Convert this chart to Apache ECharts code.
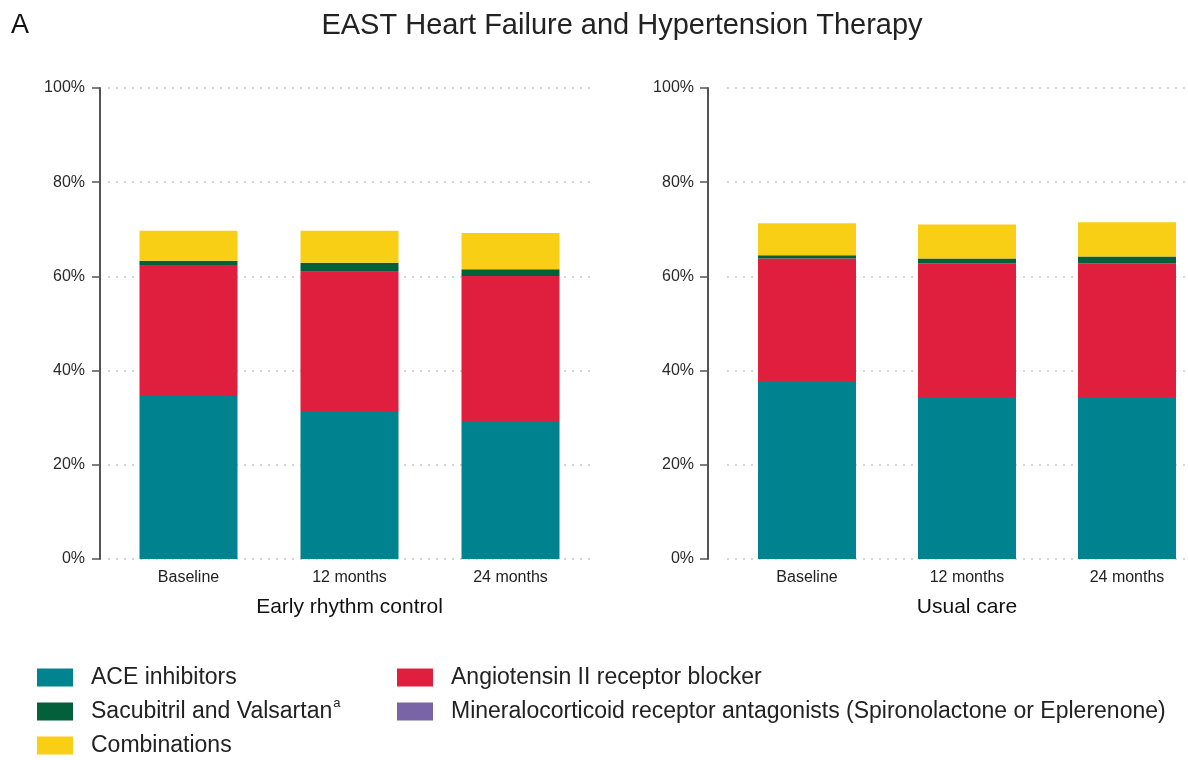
<!DOCTYPE html>
<html lang="en">
<head>
    <meta charset="UTF-8">
    <title>EAST Heart Failure and Hypertension Therapy</title>
    <style>
        html, body {
            margin: 0;
            padding: 0;
            background: #fff;
        }

        #chart1 {
            width: 1188px;
            height: 760px;
        }
    </style>
</head>
<body>
<div id="chart1"></div>
<script src="https://cdn.jsdelivr.net/npm/echarts@6/dist/echarts.min.js"></script>
<script type="text/javascript">
    // data, in percent
    var categories = ['Baseline', '12 months', '24 months'];
    var yTicks = [0, 20, 40, 60, 80, 100];

    var earlyAce = [34.6, 31.2, 29.3];
    var earlyArb = [27.8, 29.8, 30.8];
    var earlySacVal = [0.9, 1.9, 1.4];
    var earlyMra = [0, 0, 0];
    var earlyComb = [6.4, 6.8, 7.7];

    var usualAce = [37.6, 34.4, 34.4];
    var usualArb = [26.2, 28.4, 28.4];
    var usualSacVal = [0.7, 1.0, 1.4];
    var usualMra = [0, 0, 0];
    var usualComb = [6.8, 7.2, 7.3];

    var font = '"Liberation Sans", Arial, sans-serif';
    var colors = {
        'ACE inhibitors': '#00838f',
        'Angiotensin II receptor blocker': '#e01f3f',
        'Sacubitril and Valsartan': '#045f3b',
        'Mineralocorticoid receptor antagonists (Spironolactone or Eplerenone)': '#7a64a8',
        'Combinations': '#f9cf16'
    };

    var chart1 = echarts.init(document.getElementById('chart1'));

    function xAxisFor(idx, name) {
        return {
            type: 'category',
            gridIndex: idx,
            data: categories,
            axisLine: {show: false},
            axisTick: {show: false},
            axisLabel: {fontFamily: font, fontSize: 16, color: '#222', margin: 11},
            name: name,
            nameLocation: 'middle',
            nameGap: 38,
            nameTextStyle: {fontFamily: font, fontSize: 21, color: '#111'}
        };
    }

    function yAxisFor(idx, off, gap) {
        return {
            type: 'value',
            gridIndex: idx,
            min: yTicks[0],
            max: yTicks[yTicks.length - 1],
            interval: 20,
            offset: off,
            axisLine: {show: true, lineStyle: {color: '#555', width: 2}},
            axisTick: {show: true, length: 8, lineStyle: {color: '#555', width: 1.5}},
            axisLabel: {formatter: '{value}%', fontFamily: font, fontSize: 16, color: '#2a2a2a', margin: gap},
            splitLine: {show: true, lineStyle: {color: '#c8c8c8', type: [2, 6], width: 1.5}}
        };
    }

    function bars(idx, list) {
        return list.map(function (s) {
            return {
                name: s[0],
                type: 'bar',
                xAxisIndex: idx,
                yAxisIndex: idx,
                stack: 'p' + idx,
                barWidth: 98,
                data: s[1],
                itemStyle: {color: colors[s[0]]},
                emphasis: {disabled: true}
            };
        });
    }

    var series = bars(0, [
        ['ACE inhibitors', earlyAce],
        ['Angiotensin II receptor blocker', earlyArb],
        ['Sacubitril and Valsartan', earlySacVal],
        ['Mineralocorticoid receptor antagonists (Spironolactone or Eplerenone)', earlyMra],
        ['Combinations', earlyComb]
    ]).concat(bars(1, [
        ['ACE inhibitors', usualAce],
        ['Angiotensin II receptor blocker', usualArb],
        ['Sacubitril and Valsartan', usualSacVal],
        ['Mineralocorticoid receptor antagonists (Spironolactone or Eplerenone)', usualMra],
        ['Combinations', usualComb]
    ]));

    // superscript "a" after Sacubitril and Valsartan
    var legendText = {
        fontFamily: font,
        fontSize: 23,
        lineHeight: 29,
        color: '#222',
        padding: [0, 0, 0, 13],
        rich: {
            sup: {fontFamily: font, fontSize: 13, lineHeight: 13, color: '#222', verticalAlign: 'top', padding: [0, 0, 16, 1]}
        }
    };

    function legendFmt(name) {
        if (name === 'Sacubitril and Valsartan') {
            return name + '{sup|a}';
        }
        return name;
    }

    function legendAt(x, names) {
        return {
            orient: 'vertical',
            left: x,
            top: 663,
            height: 120,
            padding: 0,
            itemWidth: 36,
            itemHeight: 18,
            itemGap: 5,
            icon: 'rect',
            selectedMode: false,
            data: names,
            formatter: legendFmt,
            textStyle: legendText
        };
    }

    chart1.setOption({
        animation: false,
        title: [{
            text: 'EAST Heart Failure and Hypertension Therapy',
            left: 617,
            top: 6,
            textAlign: 'center',
            textStyle: {fontFamily: font, fontSize: 29, fontWeight: 'normal', color: '#222'}
        }, {
            text: 'A',
            left: 6,
            top: 7,
            textStyle: {fontFamily: font, fontSize: 27, fontWeight: 'normal', color: '#111'}
        }],
        legend: [
            legendAt(37, ['ACE inhibitors', 'Sacubitril and Valsartan', 'Combinations']),
            legendAt(397, ['Angiotensin II receptor blocker',
                'Mineralocorticoid receptor antagonists (Spironolactone or Eplerenone)'])
        ],
        grid: [
            {left: 108, top: 88, width: 483, height: 471, outerBoundsMode: 'none'},
            {left: 727, top: 88, width: 480, height: 471, outerBoundsMode: 'none'}
        ],
        xAxis: [xAxisFor(0, 'Early rhythm control'), xAxisFor(1, 'Usual care')],
        yAxis: [yAxisFor(0, 8, 15), yAxisFor(1, 19, 14)],
        series: series
    });
</script>
</body>
</html>
